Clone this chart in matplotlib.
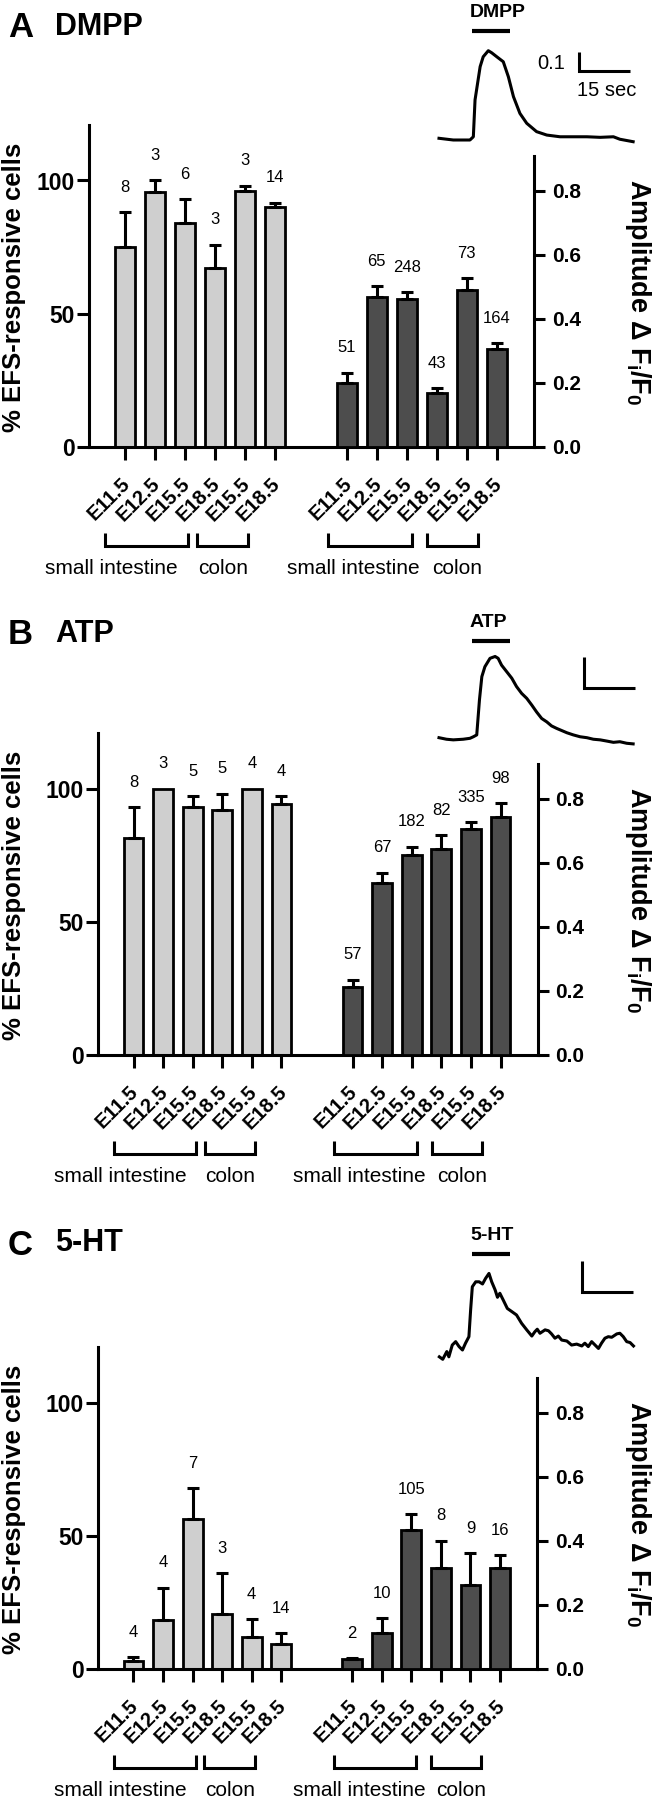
import numpy as np
import matplotlib
matplotlib.use("Agg")
import matplotlib.pyplot as plt
from matplotlib.transforms import ScaledTranslation, blended_transform_factory

plt.rcParams['font.family'] = ['Liberation Sans', 'DejaVu Sans']
plt.rcParams['mathtext.fontset'] = 'custom'
plt.rcParams['mathtext.rm'] = 'Liberation Sans'
plt.rcParams['mathtext.bf'] = 'Liberation Sans:bold'
plt.rcParams['mathtext.it'] = 'Liberation Sans:italic'

# ---------------- data ----------------
stages = ["E11.5", "E12.5", "E15.5", "E18.5", "E15.5", "E18.5"]
group_names = ["small intestine", "colon"]
panel_letters = ["A", "B", "C"]
agonists = ["DMPP", "ATP", "5-HT"]

# % EFS-responsive cells (light bars)
dmpp_pct = [75.2, 95.5, 84.2, 67.3, 96.2, 90.2]
dmpp_pct_err = [12.8, 4.5, 8.7, 8.6, 1.9, 1.5]
dmpp_pct_n = [8, 3, 6, 3, 3, 14]
atp_pct = [81.3, 100.0, 93.0, 92.1, 100.0, 94.0]
atp_pct_err = [11.6, 0.0, 4.1, 6.0, 0.0, 3.0]
atp_pct_n = [8, 3, 5, 5, 4, 4]
ht_pct = [3.0, 18.4, 56.2, 20.6, 12.0, 9.4]
ht_pct_err = [1.5, 12.0, 11.6, 15.4, 6.7, 4.0]
ht_pct_n = [4, 4, 7, 3, 4, 14]

# Amplitude dF/F0 (dark bars)
dmpp_amp = [0.200, 0.468, 0.462, 0.168, 0.490, 0.305]
dmpp_amp_err = [0.032, 0.035, 0.022, 0.016, 0.038, 0.019]
dmpp_amp_n = [51, 65, 248, 43, 73, 164]
atp_amp = [0.214, 0.536, 0.625, 0.644, 0.706, 0.743]
atp_amp_err = [0.021, 0.034, 0.025, 0.043, 0.021, 0.043]
atp_amp_n = [57, 67, 182, 82, 335, 98]
ht_amp = [0.031, 0.112, 0.434, 0.315, 0.263, 0.315]
ht_amp_err = [0.003, 0.047, 0.050, 0.085, 0.099, 0.041]
ht_amp_n = [2, 10, 105, 8, 9, 16]

# Example Ca2+ traces (time s, dF/F0)
dmpp_t = [0, 4.2, 9.1, 10.1, 10.6, 12.1, 13.0, 14.5, 15.5, 17.0, 18.9, 20.4,
          21.9, 23.8, 25.8, 28.7, 31.7, 35.6, 39.5, 43.5, 47.4, 51.3, 53.2, 57.1]
dmpp_v = [0.009, 0.0, 0.0, 0.017, 0.211, 0.386, 0.438, 0.470, 0.459, 0.438, 0.412, 0.333,
          0.228, 0.140, 0.088, 0.044, 0.026, 0.017, 0.017, 0.017, 0.014, 0.017, 0.004, -0.009]
atp_t = [0, 2.2, 4.2, 7.1, 9.1, 10.1, 11.1, 11.9, 12.6, 13.5, 15.0, 16.5, 17.4, 18.4,
         19.9, 21.4, 22.8, 24.3, 25.8, 27.3, 28.7, 30.2, 31.7, 33.1, 34.6, 36.1, 37.6,
         39.5, 41.5, 43.5, 45.4, 47.4, 49.4, 51.3, 53.2, 55.2, 57.1]
atp_v = [0.001, -0.004, -0.006, -0.004, -0.001, 0.004, 0.010, 0.123, 0.198, 0.230, 0.257,
         0.263, 0.257, 0.235, 0.214, 0.193, 0.166, 0.144, 0.128, 0.106, 0.084, 0.063,
         0.052, 0.039, 0.031, 0.024, 0.017, 0.010, 0.004, 0.001, -0.004, -0.006, -0.010,
         -0.014, -0.012, -0.017, -0.019]
ht_t = [0.1, 1.1, 2.3, 2.9, 3.9, 4.9, 5.9, 6.9, 7.8, 8.8, 9.3, 9.8, 10.8, 11.8, 12.8,
        13.7, 14.7, 15.5, 16.5, 17.2, 17.9, 18.9, 20.1, 21.4, 22.8, 24.3, 25.8, 27.3,
        28.2, 28.9, 29.7, 31.2, 32.2, 33.1, 34.1, 35.1, 36.1, 37.6, 39.0, 40.5, 42.0,
        42.9, 43.9, 44.9, 45.9, 46.9, 47.8, 48.8, 49.8, 50.8, 52.3, 53.2, 54.2, 55.2,
        56.2, 57.2]
ht_v = [-0.022, -0.030, -0.005, -0.022, 0.016, 0.027, 0.011, 0.0, 0.022, 0.043, 0.129,
        0.204, 0.220, 0.220, 0.213, 0.231, 0.247, 0.220, 0.194, 0.170, 0.183, 0.161,
        0.134, 0.124, 0.113, 0.086, 0.065, 0.045, 0.059, 0.067, 0.054, 0.065, 0.062,
        0.052, 0.038, 0.045, 0.032, 0.029, 0.016, 0.019, 0.013, 0.022, 0.011, 0.027,
        0.016, 0.005, 0.022, 0.038, 0.043, 0.041, 0.052, 0.054, 0.043, 0.027, 0.024,
        0.013]
stim_on = [9.7, 9.7, 9.6]
stim_off = [20.9, 20.9, 20.9]
scale_time = 15      # s
scale_amp = 0.1      # dF/F0

# ---------------- layout ----------------
W, H = 653, 1800
fig = plt.figure(figsize=(W / 100, H / 100), dpi=100)

def fy(py):
    return 1 - py / H

def px_axes(x0, x1, y0, y1):
    return fig.add_axes([x0 / W, 1 - y1 / H, (x1 - x0) / W, (y1 - y0) / H])

LIGHT = '#cfcfcf'
DARK = '#4d4d4d'
LW = 2.2
PX_PCT = 2.665
PX_AMP = 320.0
PCT_TOP = 120.8

pct_sets = [(dmpp_pct, dmpp_pct_err, dmpp_pct_n), (atp_pct, atp_pct_err, atp_pct_n),
            (ht_pct, ht_pct_err, ht_pct_n)]
amp_sets = [(dmpp_amp, dmpp_amp_err, dmpp_amp_n), (atp_amp, atp_amp_err, atp_amp_n),
            (ht_amp, ht_amp_err, ht_amp_n)]
traces = [(dmpp_t, dmpp_v), (atp_t, atp_v), (ht_t, ht_v)]

# per-panel pixel geometry
zero_y = [447, 1055, 1669]
left_x = [89, 98, 98]
right_x = [534, 537.5, 537]
title_base = [37, 644, 1255]
name_base = [35, 642, 1251]
trace_base = [140, 738, 1350]
trace_ppv = [190, 310, 310]
trace_box = [(0, 160), (600, 760), (1210, 1375)]
stim_y = [31, 641, 1254]
stim_lab_y = [17, 627, 1240]
sb_x = [579, 584, 582]
sb_y = [71, 688, 1292]

n_light = len(stages)
xl = np.arange(n_light)
xd = xl + 7.4
XMIN, XMAX = -1.2, 13.65
BW = 0.67

for p in range(3):
    z = zero_y[p]
    ax = px_axes(left_x[p], right_x[p], z - PCT_TOP * PX_PCT, z)
    ax.set_xlim(XMIN, XMAX)
    ax.set_ylim(0, PCT_TOP)
    ax2 = ax.twinx()
    ax2.set_ylim(0, PCT_TOP * PX_PCT / PX_AMP)

    pv, pe, pn = pct_sets[p]
    av, ae, an = amp_sets[p]
    pv, pe, av, ae = map(np.asarray, (pv, pe, av, ae))

    ax.bar(xl, pv, width=BW, color=LIGHT, edgecolor='black', linewidth=2.0, zorder=2)
    m = pe > 0
    ax.errorbar(xl[m], pv[m], yerr=[np.zeros(m.sum()), pe[m]], fmt='none', ecolor='black',
                elinewidth=LW, capsize=4.5, capthick=LW, zorder=3)
    for x, v, e, n in zip(xl, pv, pe, pn):
        ax.annotate(str(n), (x, v + e), xytext=(0, 18), textcoords='offset points',
                    ha='center', va='center', fontsize=12)

    ax2.bar(xd, av, width=BW, color=DARK, edgecolor='black', linewidth=2.0, zorder=2)
    m = ae > 0
    ax2.errorbar(xd[m], av[m], yerr=[np.zeros(m.sum()), ae[m]], fmt='none', ecolor='black',
                 elinewidth=LW, capsize=4.5, capthick=LW, zorder=3)
    for x, v, e, n in zip(xd, av, ae, an):
        ax2.annotate(str(n), (x, v + e), xytext=(0, 18), textcoords='offset points',
                     ha='center', va='center', fontsize=12)

    # spines
    for s in ['top', 'right']:
        ax.spines[s].set_visible(False)
    for s in ['top', 'left', 'bottom']:
        ax2.spines[s].set_visible(False)
    ax.spines['left'].set_linewidth(LW)
    ax.spines['bottom'].set_linewidth(LW)
    ax2.spines['right'].set_linewidth(LW)
    ax2.spines['right'].set_bounds(0, 0.91)

    ax.set_yticks([0, 50, 100])
    ax.set_yticklabels(['0', '50', '100'], fontsize=16.5, fontweight='bold')
    ax.tick_params(axis='y', direction='out', length=8.6, width=LW, pad=1.5)
    ax2.set_yticks([0.0, 0.2, 0.4, 0.6, 0.8])
    ax2.set_yticklabels(['0.0', '0.2', '0.4', '0.6', '0.8'], fontsize=15, fontweight='bold')
    ax2.tick_params(axis='y', direction='out', length=8.0, width=LW, pad=5)

    allx = np.concatenate([xl, xd])
    ax.set_xticks(allx)
    ax.set_xticklabels([''] * len(allx))
    ax.tick_params(axis='x', direction='out', length=9.4, width=LW)

    off = ScaledTranslation(0.06, -0.38, fig.dpi_scale_trans)
    for x, lab in zip(allx, stages + stages):
        ax.text(x, 0, lab, transform=ax.transData + off, rotation=45, rotation_mode='anchor',
                ha='right', va='baseline', fontsize=14.5, fontweight='bold')

    blend = blended_transform_factory(ax.transData, fig.transFigure)
    brackets = [(xl[0] - 0.67, xl[0] + 2.1), (xl[0] + 2.4, xl[0] + 4.1),
                (xd[0] - 0.63, xd[0] + 2.17), (xd[0] + 2.67, xd[0] + 4.37)]
    for (b0, b1) in brackets:
        ax.plot([b0, b0, b1, b1], [fy(z + 86), fy(z + 99), fy(z + 99), fy(z + 86)],
                color='black', lw=LW, transform=blend, clip_on=False,
                solid_joinstyle='miter', solid_capstyle='butt')
    text_x = [xl[0] - 0.45, xl[0] + 3.27, xd[0] + 0.23, xd[0] + 3.7]
    for tx, name in zip(text_x, group_names + group_names):
        ax.text(tx, fy(z + 127), name, transform=blend, ha='center', va='baseline',
                fontsize=15)

    lb = blended_transform_factory(fig.transFigure, ax.transData)
    ax.text(14 / W, 60, '% EFS-responsive cells', transform=lb, rotation=90,
            ha='center', va='center', fontsize=18.5, fontweight='bold')
    rb = blended_transform_factory(fig.transFigure, ax2.transData)
    ax2.text(638 / W, 0.485, r'Amplitude Δ F$_\mathbf{i}$/F$_\mathbf{0}$', transform=rb,
             rotation=270, ha='center', va='center', fontsize=19.5, fontweight='bold')

    # panel titles
    fig.text(8 / W, fy(title_base[p]), panel_letters[p], fontsize=25, fontweight='bold',
             ha='left', va='baseline')
    fig.text(55 / W, fy(name_base[p]), agonists[p], fontsize=22, fontweight='bold',
             ha='left', va='baseline')

    # trace inset
    base = trace_base[p]
    ppv = trace_ppv[p]
    pps = 3.4
    t0, t1 = 0.0, 58.0
    ytop, ybot = trace_box[p]
    tax = px_axes(439, 439 + (t1 - t0) * pps, ytop, ybot)
    tax.set_xlim(t0, t1)
    tax.set_ylim((base - ybot) / ppv, (base - ytop) / ppv)
    tax.axis('off')
    tt, tv = traces[p]
    tax.plot(tt, tv, color='black', lw=2.2, solid_joinstyle='round', clip_on=False)
    sy = (base - stim_y[p]) / ppv
    tax.plot([stim_on[p], stim_off[p]], [sy, sy], color='black', lw=3.0,
             solid_capstyle='butt', clip_on=False)
    tax.text(9.1, (base - stim_lab_y[p]) / ppv, agonists[p], fontsize=14,
             fontweight='bold', ha='left', va='baseline')
    sbx = (sb_x[p] - 439) / pps
    sby = (base - sb_y[p]) / ppv
    tax.plot([sbx, sbx, sbx + scale_time], [sby + scale_amp, sby, sby], color='black',
             lw=2.2, solid_joinstyle='miter', solid_capstyle='butt', clip_on=False)
    if p == 0:
        tax.text(sbx - 4.2, sby + scale_amp * 0.42, '0.1', fontsize=14.5,
                 ha='right', va='center')
        tax.text(sbx - 0.6, sby - 0.1, '15 sec', fontsize=14.5, ha='left', va='center')

fig.savefig('out.png', dpi=100)
